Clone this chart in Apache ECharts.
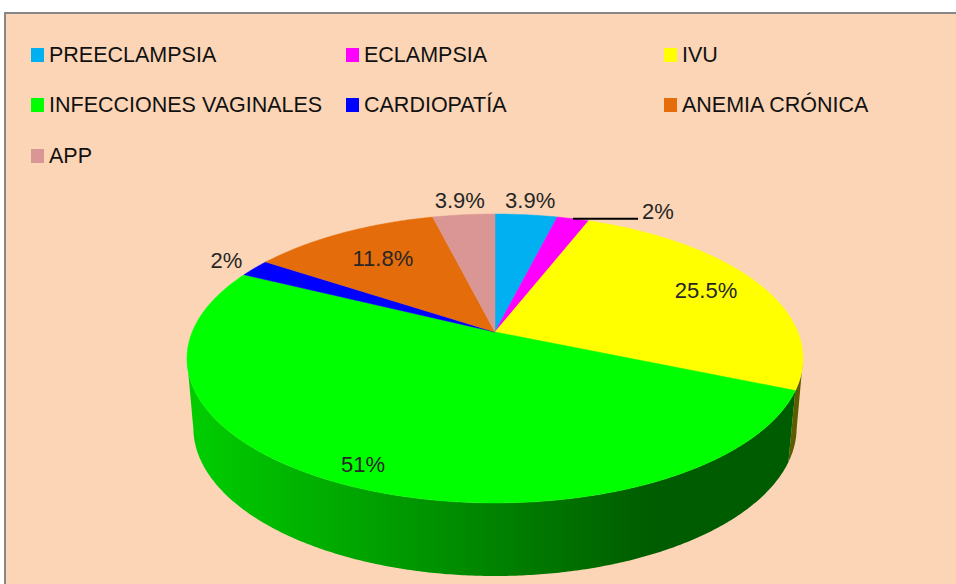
<!DOCTYPE html>
<html>

<head>
  <meta charset="utf-8" />
  <title></title>
  <script src="https://cdn.jsdelivr.net/npm/echarts@6/dist/echarts.min.js"></script>
  <style>
    html, body { margin: 0; padding: 0; background: #fff; }
  </style>
</head>

<body>
  <div id="pie" style="width: 956px;height:584px;"></div>
  <script type="text/javascript">
    // data
    var categories = ['PREECLAMPSIA', 'ECLAMPSIA', 'IVU', 'INFECCIONES VAGINALES', 'CARDIOPATÍA', 'ANEMIA CRÓNICA', 'APP'];
    var values = [3.9, 2, 25.5, 51, 2, 11.8, 3.9];
    var colors = ['#00B0F0', '#FF00FF', '#FFFF00', '#00FF00', '#0000FF', '#E46C0A', '#D99694'];

    // label placement (radius as fraction of pie radius), leader line only for ECLAMPSIA
    var labelRadius = [1.15, 1.0, 0.8, 0.89, 1.13, 0.71, 1.15];
    var labelLeader = [false, true, false, false, false, false, false];

    var legendCols = [31, 346, 664];
    var legendRows = [55, 105, 156];

    var font = "'Liberation Sans', Arial, sans-serif";

    // 3d pie projection (perspective-like view of a flat cylinder, z=0 top, z=1 bottom)
    var CX = 495, CY = 332, A = 302.8, B = 139.6, P = 0.1834, Q = 0.06, D = 74.3, SX = 1.04;
    function proj(r, deg, z) {
      var t = deg * Math.PI / 180;
      var u = r * Math.sin(t), v = r * Math.cos(t);
      var w = 1 + P * v + Q * z;
      var sx = z ? SX : 1;
      return [CX + A * sx * u / w, CY + (-B * v + D * z) / w];
    }
    // angle where the rim turns away from the viewer
    var SIL = Math.acos(-P) * 180 / Math.PI;

    function shade(hex, f) {
      var n = parseInt(hex.slice(1), 16);
      var r = Math.round(((n >> 16) & 255) * f), g = Math.round(((n >> 8) & 255) * f), b = Math.round((n & 255) * f);
      return 'rgb(' + r + ',' + g + ',' + b + ')';
    }

    var total = values.reduce(function (a, b) { return a + b; }, 0);
    var startAng = [], endAng = [];
    var acc = 0;
    values.forEach(function (v) {
      startAng.push(acc / total * 360);
      acc += v;
      endAng.push(acc / total * 360);
    });

    function makeRender(k) {
      return function (params, api) {
        var a1 = startAng[k], a2 = endAng[k];
        var children = [];

        // side wall, visible front part only, lit from the left
        var s1 = Math.max(a1, SIL), s2 = Math.min(a2, 360 - SIL);
        if (s2 > s1) {
          var n = Math.max(2, Math.ceil((s2 - s1) / 0.5));
          var top = [], bottom = [];
          for (var i = 0; i <= n; i++) {
            var t = s1 + (s2 - s1) * i / n;
            top.push(proj(1, t, 0));
            bottom.unshift(proj(1, t, 1));
          }
          children.push({
            type: 'polygon', z2: 1,
            shape: { points: top.concat(bottom) },
            style: {
              fill: {
                type: 'linear', x: 200, y: 0, x2: 650, y2: 0, global: true,
                colorStops: [
                  { offset: 0, color: shade(colors[k], 0.8) },
                  { offset: 1, color: shade(colors[k], 0.36) }
                ]
              }
            }
          });
        }

        // top face
        var pts = [proj(0, 0, 0)];
        var m = Math.max(2, Math.ceil((a2 - a1) / 0.5));
        for (var j = 0; j <= m; j++) {
          pts.push(proj(1, a1 + (a2 - a1) * j / m, 0));
        }
        children.push({
          type: 'polygon', z2: 10,
          shape: { points: pts },
          style: { fill: colors[k], stroke: colors[k], lineWidth: 0.5 }
        });

        // label
        var mid = (a1 + a2) / 2;
        var txt = values[k] + '%';
        if (labelLeader[k]) {
          var e = proj(1, mid, 0);
          children.push({
            type: 'line', z2: 20,
            shape: { x1: e[0], y1: e[1], x2: e[0] + 65, y2: e[1] },
            style: { stroke: '#000', lineWidth: 2 }
          });
          children.push({
            type: 'text', z2: 20, x: e[0] + 69, y: e[1] - 7,
            style: { text: txt, fill: '#262626', font: '22px ' + font, align: 'left', verticalAlign: 'middle' }
          });
        } else {
          var lp = proj(labelRadius[k], mid, 0);
          children.push({
            type: 'text', z2: 20, x: lp[0], y: lp[1],
            style: { text: txt, fill: '#262626', font: '22px ' + font, align: 'center', verticalAlign: 'middle' }
          });
        }
        return { type: 'group', children: children };
      };
    }

    var series = categories.map(function (name, k) {
      return {
        type: 'custom',
        name: name,
        coordinateSystem: 'none',
        itemStyle: { color: colors[k] },
        data: [values[k]],
        renderItem: makeRender(k)
      };
    });

    var legends = categories.map(function (name, i) {
      return {
        data: [name],
        left: legendCols[i % 3],
        top: legendRows[Math.floor(i / 3)] - 11,
        padding: 0,
        icon: 'rect',
        itemWidth: 13,
        itemHeight: 14,
        selectedMode: false,
        textStyle: { fontSize: 21.5, fontFamily: font, color: '#111' }
      };
    });

    var pieChart = echarts.init(document.getElementById('pie'), null, { renderer: 'svg' });
    var option = {
      animation: false,
      backgroundColor: '#ffffff',
      graphic: [{
        type: 'rect', z: -10, silent: true,
        shape: { x: 5, y: 13, width: 1000, height: 700 },
        style: { fill: '#FBD5B5', stroke: '#878787', lineWidth: 2 }
      }],
      legend: legends,
      series: series
    };
    pieChart.setOption(option);

    window.onresize = function () {
      pieChart.resize();
    };
  </script>
</body>

</html>
